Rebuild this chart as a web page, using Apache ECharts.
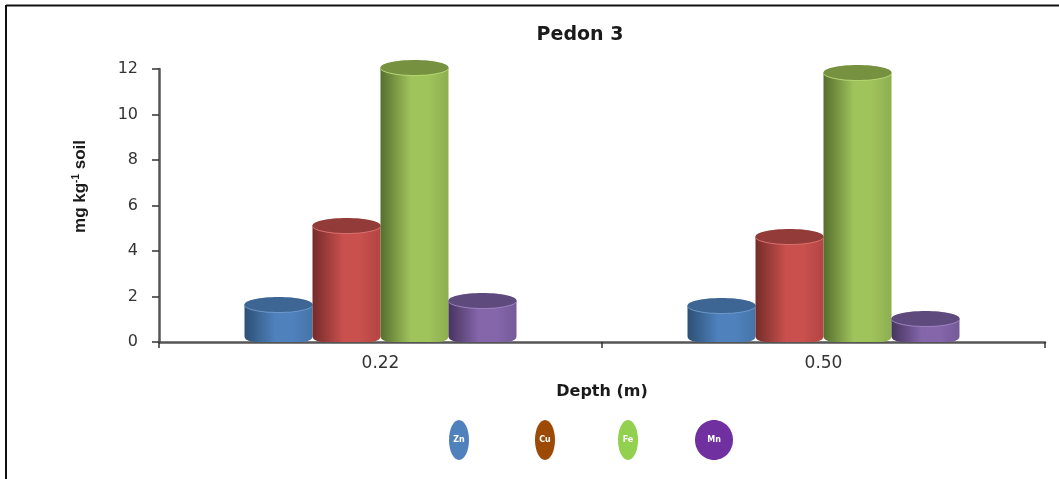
<!DOCTYPE html>
<html>
<head>
<meta charset="utf-8">
<style>html,body{margin:0;padding:0;background:#fff}#chart{width:1059px;height:479px}</style>
<script src="https://cdn.jsdelivr.net/npm/echarts@6/dist/echarts.min.js"></script>
</head>
<body>
<div id="chart"></div>
<script>
const depths = ['0.22', '0.50'];
const elements = ['Zn', 'Cu', 'Fe', 'Mn'];
const zn = [1.65, 1.6];
const cu = [5.12, 4.64];
const fe = [12.07, 11.85];
const mn = [1.82, 1.03];
const yTicks = [0, 2, 4, 6, 8, 10, 12];

const seriesValues = [zn, cu, fe, mn];
// shaded edge, lit face, cap tone and rim highlight for each cylinder
const tones = [
  { dark: '#2d5074', mid: '#4f81bd', side: '#4674a8', cap: '#3d6695', rim: '#6d97c8' },
  { dark: '#742c2a', mid: '#c9504d', side: '#b34543', cap: '#933b39', rim: '#d8706d' },
  { dark: '#566f2e', mid: '#a0c45c', side: '#8eae50', cap: '#769140', rim: '#b5d574' },
  { dark: '#47345f', mid: '#8566ab', side: '#755a98', cap: '#5f4a7e', rim: '#9b80bd' }
];
const legendFills = ['#4f81bd', '#9c4a06', '#92d050', '#7030a0'];

const BAR_W = 68;
const CAP_RY = 7.5;
const FOOT = 6;
const FOOT_W = 14;

function cylinderItem(idx) {
  return function (params, api) {
    const cat = api.value(0);
    const top = api.coord([cat, api.value(1)]);
    const base = api.coord([cat, 0]);
    const left = top[0] + (idx - 2) * BAR_W;
    const right = left + BAR_W;
    const rx = BAR_W / 2;
    const cx = left + rx;
    const t = tones[idx];
    const y0 = base[1];
    return {
      type: 'group',
      children: [
        {
          type: 'path',
          shape: {
            pathData:
              `M${left} ${top[1]} L${left} ${y0 - FOOT} ` +
              `Q${left} ${y0} ${left + FOOT_W} ${y0} ` +
              `L${right - FOOT_W} ${y0} ` +
              `Q${right} ${y0} ${right} ${y0 - FOOT} ` +
              `L${right} ${top[1]} Z`
          },
          style: {
            fill: new echarts.graphic.LinearGradient(0, 0, 1, 0, [
              { offset: 0, color: t.dark },
              { offset: 0.45, color: t.mid },
              { offset: 0.7, color: t.mid },
              { offset: 1, color: t.side }
            ])
          }
        },
        {
          type: 'ellipse',
          shape: { cx: cx, cy: top[1] + 1, rx: rx, ry: CAP_RY },
          style: { fill: t.rim }
        },
        {
          type: 'ellipse',
          shape: { cx: cx, cy: top[1], rx: rx, ry: CAP_RY },
          style: { fill: t.cap }
        }
      ]
    };
  };
}

const chart = echarts.init(document.getElementById('chart'), null, { renderer: 'canvas' });

const legendX = [459, 545, 628, 714];
const legendRx = [10, 10, 10, 19];

chart.setOption({
  animation: false,
  backgroundColor: '#fff',
  title: {
    text: 'Pedon 3',
    left: 575,
    top: 21,
    textAlign: 'center',
    textStyle: { fontFamily: 'DejaVu Sans', fontWeight: 'bold', fontSize: 19, color: '#1a1a1a' }
  },
  grid: { left: 159, right: 14, top: 69, bottom: 137, containLabel: false },
  xAxis: {
    type: 'category',
    data: depths,
    name: 'Depth (m)',
    nameLocation: 'middle',
    nameGap: 42,
    nameTextStyle: { fontFamily: 'DejaVu Sans', fontWeight: 'bold', fontSize: 16, color: '#1a1a1a' },
    axisLine: { lineStyle: { color: '#555', width: 2.5 } },
    axisTick: { show: true, alignWithLabel: false, length: 6, lineStyle: { color: '#333', width: 1.5 } },
    axisLabel: { fontFamily: 'DejaVu Sans', fontSize: 17, color: '#333', margin: 13 }
  },
  yAxis: {
    type: 'value',
    min: 0,
    max: 12,
    interval: 2,
    axisLine: { show: true, lineStyle: { color: '#555', width: 2.5 } },
    axisTick: { show: true, length: 7, lineStyle: { color: '#333', width: 1.5 } },
    splitLine: { show: false },
    axisLabel: {
      fontFamily: 'DejaVu Sans', fontSize: 16, color: '#333', margin: 21,
      formatter: v => (yTicks.includes(v) ? String(v) : '')
    },
    name: '{a|mg kg}{s|-1}{a| soil}',
    nameLocation: 'middle',
    nameGap: 70,
    nameRotate: 90,
    nameTextStyle: {
      padding: [0, 0, 0, 38],
      rich: {
        a: { fontFamily: 'Liberation Sans', fontWeight: 'bold', fontSize: 17, color: '#1a1a1a' },
        s: { fontFamily: 'Liberation Sans', fontWeight: 'bold', fontSize: 10, color: '#1a1a1a', verticalAlign: 'top', padding: [0, 0, 8, 0] }
      }
    }
  },
  series: elements.map((name, i) => ({
    type: 'custom',
    name: name,
    coordinateSystem: 'cartesian2d',
    renderItem: cylinderItem(i),
    encode: { x: 0, y: 1 },
    clip: false,
    data: depths.map((d, c) => [c, seriesValues[i][c]])
  })),
  graphic: [
    // outer frame along the top and left edges
    { type: 'line', shape: { x1: 6, y1: 5.5, x2: 1059, y2: 5.5 }, style: { stroke: '#111', lineWidth: 2 } },
    { type: 'line', shape: { x1: 6, y1: 5, x2: 6, y2: 479 }, style: { stroke: '#111', lineWidth: 2 } },
    ...elements.map((name, i) => ({
      type: 'group',
      children: [
        { type: 'ellipse', shape: { cx: legendX[i], cy: 440, rx: legendRx[i], ry: 20 }, style: { fill: legendFills[i] } },
        { type: 'text', x: legendX[i], y: 440, style: { text: name, fill: '#fff', font: 'bold 8px "DejaVu Sans"', textAlign: 'center', textVerticalAlign: 'middle' } }
      ]
    }))
  ]
});
</script>
</body>
</html>
